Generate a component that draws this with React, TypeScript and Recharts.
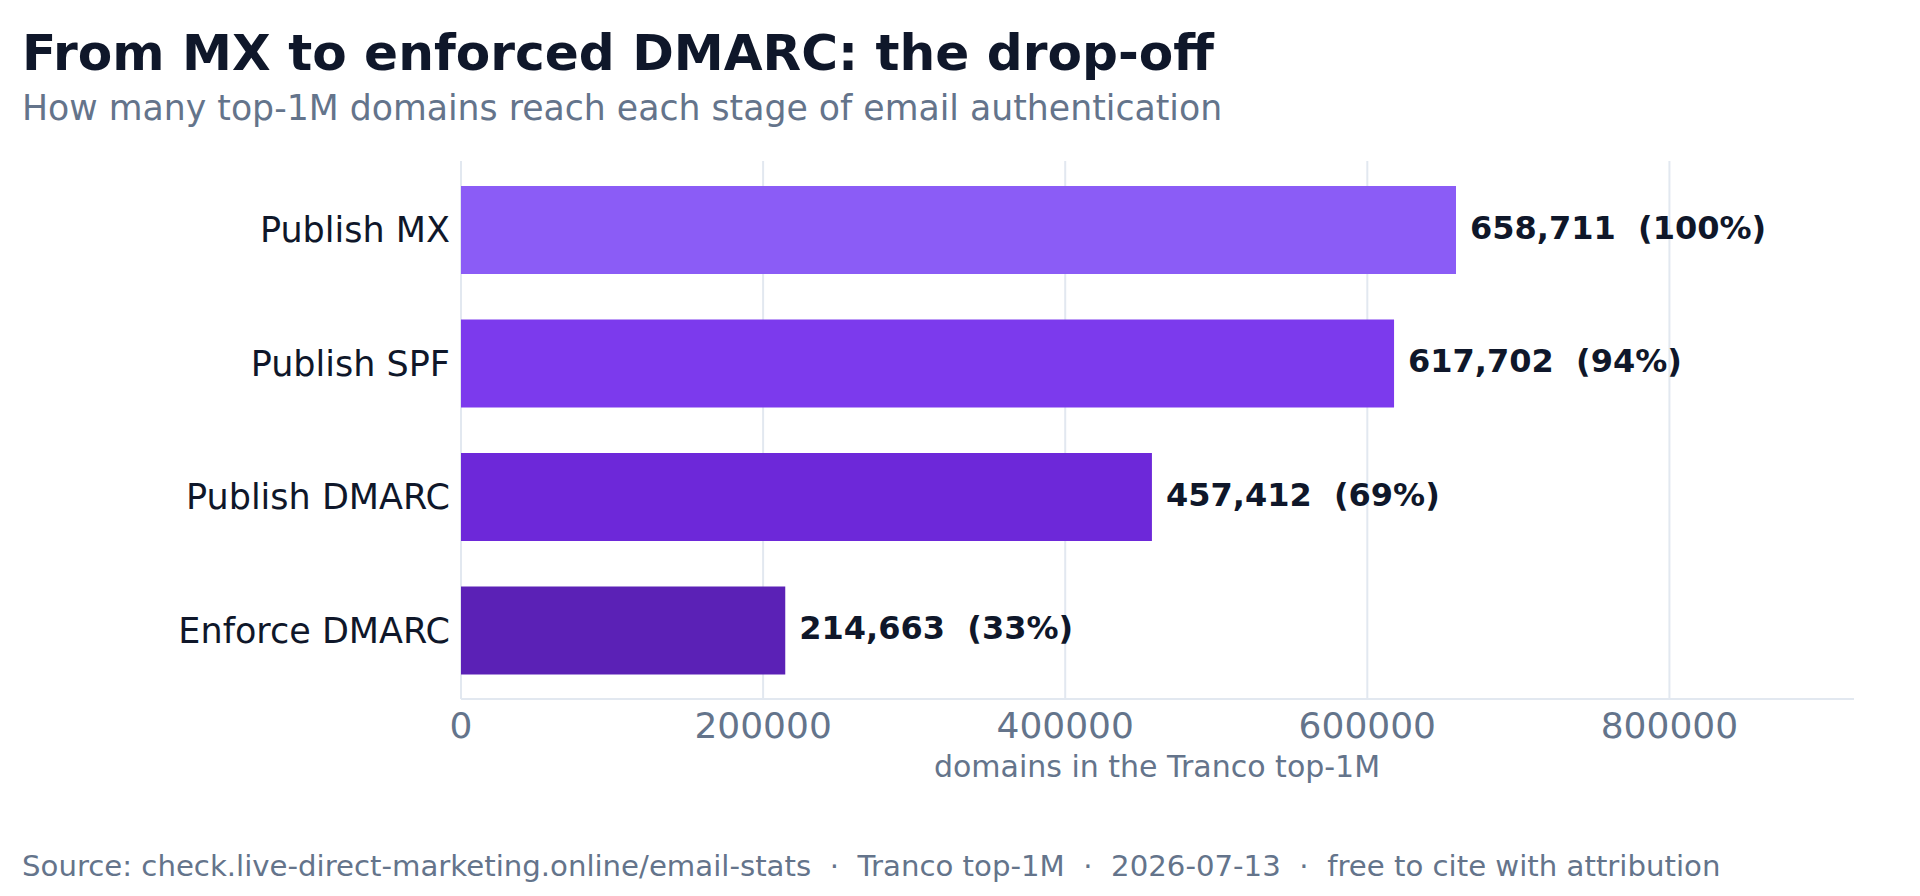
import { Bar, BarChart, CartesianGrid, Cell, LabelList, XAxis, YAxis } from "recharts"

const stages = ["Publish MX", "Publish SPF", "Publish DMARC", "Enforce DMARC"]
const domains = [658711, 617702, 457412, 214663]
const barColors = ["#8B5CF6", "#7C3AED", "#6D28D9", "#5B21B6"]
const xTicks = [0, 200000, 400000, 600000, 800000]

const FONT = '"DejaVu Sans", Verdana, sans-serif'
const INK = "#0F172A"
const MUTED = "#64748B"
const GRID = "#E2E8F0"

// 40% headroom to the right for the value labels
const X_MAX = Math.max(...domains) * 1.4

const data = stages.map((stage, i) => ({ stage, count: domains[i] }))

function ValueLabel(props: any) {
  const { x, y, width, height, value } = props
  const pct = Math.round((value / domains[0]) * 100)
  return (
    <text
      x={x + width + 14}
      y={y + height / 2 + 8.5}
      fill={INK}
      fontSize={32}
      fontWeight="bold"
      fontFamily={FONT}
      style={{ whiteSpace: "pre" }}
    >
      {`${value.toLocaleString("en-US")}  (${pct}%)`}
    </text>
  )
}

// vertical grid only at the tick values, not at the plot edges
const gridAtTicks = ({ xAxis, offset }: any) => {
  const scale = xAxis?.scale
  if (typeof scale === "function") return xTicks.map((t) => scale(t))
  if (scale && typeof scale.map === "function") return xTicks.map((t) => scale.map(t))
  return xTicks.map((t) => offset.left + (t / X_MAX) * offset.width)
}

export default function App() {
  return (
    <div style={{ position: "absolute", left: 0, top: 0, width: 1920, height: 896, background: "#fff", fontFamily: FONT }}>
      <BarChart
        width={1920}
        height={896}
        data={data}
        layout="vertical"
        margin={{ top: 161, right: 66, bottom: 137, left: 161 }}
      >
        <CartesianGrid
          horizontal={false}
          stroke={GRID}
          strokeWidth={2}
          verticalCoordinatesGenerator={gridAtTicks}
        />
        <XAxis
          type="number"
          dataKey="count"
          domain={[0, X_MAX]}
          ticks={xTicks}
          height={60}
          tickLine={false}
          tickMargin={7}
          axisLine={{ stroke: GRID, strokeWidth: 2 }}
          tick={{ fontSize: 36, fill: MUTED, fontFamily: FONT }}
        />
        <YAxis
          type="category"
          dataKey="stage"
          width={300}
          padding={{ top: 2, bottom: 2 }}
          axisLine={false}
          tickLine={false}
          tickMargin={5}
          tick={{ fontSize: 35, fill: INK, fontFamily: FONT }}
        />
        <Bar dataKey="count" barSize={88} isAnimationActive={false}>
          {data.map((d, i) => (
            <Cell key={d.stage} fill={barColors[i]} />
          ))}
          <LabelList dataKey="count" content={ValueLabel} />
        </Bar>
      </BarChart>
      <svg
        width={1920}
        height={896}
        style={{ position: "absolute", left: 0, top: 0, pointerEvents: "none" }}
        fontFamily={FONT}
      >
        <text x={22} y={70} fontSize={50.2} fontWeight="bold" fill={INK}>
          From MX to enforced DMARC: the drop-off
        </text>
        <text x={22} y={120} fontSize={34.7} fill={MUTED}>
          How many top-1M domains reach each stage of email authentication
        </text>
        <text x={1157} y={777} fontSize={30} fill={MUTED} textAnchor="middle">
          domains in the Tranco top-1M
        </text>
        <text x={22} y={876} fontSize={29.2} fill={MUTED} style={{ whiteSpace: "pre" }}>
          {"Source: check.live-direct-marketing.online/email-stats  ·  Tranco top-1M  ·  2026-07-13  ·  free to cite with attribution"}
        </text>
      </svg>
    </div>
  )
}
